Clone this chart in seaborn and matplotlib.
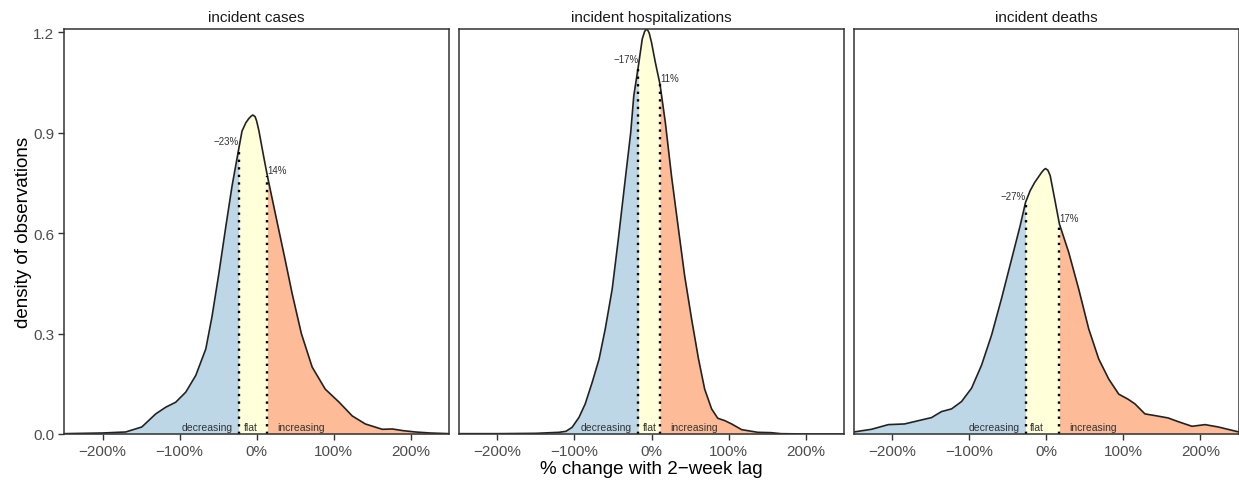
import numpy as np
import matplotlib
matplotlib.use("Agg")
import matplotlib.pyplot as plt
import seaborn as sns

# --- data ---
PANELS = ["incident cases", "incident hospitalizations", "incident deaths"]

cases_x = [-250, -200, -170, -149, -131, -118, -105, -92, -79, -66, -58, -49, -40, -32,
           -23, -19, -14, -10, -7, -5, -2, 0, 3, 9, 14, 25, 37, 46, 58, 72, 89, 107, 124,
           141, 163, 176, 190, 206, 225, 250]
cases_y = [0.001, 0.003, 0.006, 0.021, 0.060, 0.080, 0.095, 0.125, 0.175, 0.254, 0.350,
           0.480, 0.620, 0.740, 0.855, 0.905, 0.930, 0.943, 0.950, 0.953, 0.948, 0.935,
           0.905, 0.830, 0.770, 0.650, 0.520, 0.420, 0.300, 0.200, 0.134, 0.095, 0.054,
           0.030, 0.014, 0.015, 0.010, 0.006, 0.003, 0.001]

hosp_x = [-250, -200, -150, -120, -111, -103, -94, -86, -77, -68, -60, -51, -43, -34,
          -27, -23, -17, -12, -9, -7, -5, -3, 0, 5, 11, 18, 26, 35, 43, 52, 61, 69, 78,
          86, 95, 104, 117, 138, 155, 168, 200, 250]
hosp_y = [0.001, 0.001, 0.002, 0.005, 0.008, 0.020, 0.050, 0.090, 0.154, 0.224, 0.314,
          0.433, 0.583, 0.762, 0.900, 1.010, 1.100, 1.180, 1.202, 1.209, 1.207, 1.198,
          1.170, 1.110, 1.045, 0.930, 0.770, 0.612, 0.473, 0.344, 0.224, 0.134, 0.075,
          0.047, 0.040, 0.030, 0.013, 0.005, 0.004, 0.001, 0.000, 0.000]

deaths_x = [-250, -227, -205, -184, -162, -149, -136, -123, -110, -97, -84, -71, -58, -45,
            -34, -27, -21, -15, -6, -3, -1, 2, 5, 11, 17, 29, 42, 55, 68, 81, 94, 106, 115,
            128, 141, 158, 171, 189, 206, 223, 250]
deaths_y = [0.006, 0.014, 0.028, 0.030, 0.042, 0.049, 0.067, 0.075, 0.097, 0.137, 0.206,
            0.296, 0.406, 0.523, 0.622, 0.692, 0.727, 0.752, 0.782, 0.790, 0.793, 0.788,
            0.772, 0.700, 0.627, 0.543, 0.433, 0.314, 0.224, 0.164, 0.119, 0.104, 0.090,
            0.060, 0.055, 0.048, 0.037, 0.023, 0.028, 0.021, 0.006]

# lower / upper thresholds of the "flat" band
thr_low = [-23, -17, -27]
thr_high = [14, 11, 17]

x_ticks = [-200, -100, 0, 100, 200]
x_tick_labels = ["\u2212200%", "\u2212100%", "0%", "100%", "200%"]
y_ticks = [0.0, 0.3, 0.6, 0.9, 1.2]
y_tick_labels = ["0.0", "0.3", "0.6", "0.9", "1.2"]

COL_DEC = "#BDD7E7"
COL_FLAT = "#FFFFDA"
COL_INC = "#FDBB98"
EDGE = "#333333"

sns.set_theme(style="ticks")
plt.rcParams["font.family"] = ["Liberation Sans", "DejaVu Sans"]

fig, axes = plt.subplots(1, 3, figsize=(12.39, 4.85), dpi=100, sharey=True)
fig.subplots_adjust(left=64 / 1239, right=1.0, bottom=1 - 435 / 485,
                    top=1 - 30 / 485, wspace=0.0247)

curves = [(cases_x, cases_y), (hosp_x, hosp_y), (deaths_x, deaths_y)]

for i, ax in enumerate(axes):
    x = np.array(curves[i][0], dtype=float)
    y = np.array(curves[i][1], dtype=float)
    lo, hi = thr_low[i], thr_high[i]

    # coloured regions under the curve
    m = x <= lo
    ax.fill_between(x[m], y[m], color=COL_DEC, lw=0)
    m = (x >= lo) & (x <= hi)
    ax.fill_between(x[m], y[m], color=COL_FLAT, lw=0)
    m = x >= hi
    ax.fill_between(x[m], y[m], color=COL_INC, lw=0)

    sns.lineplot(x=x, y=y, ax=ax, color="#222222", lw=1.2, sort=False)

    # dotted threshold lines
    y_lo = y[x == lo][0]
    y_hi = y[x == hi][0]
    ax.vlines([lo, hi], 0, [y_lo, y_hi], colors="black",
              linestyles=(0, (1, 2.2)), lw=1.7)

    ax.text(lo, y_lo + 0.005, f"{lo}%".replace("-", "\u2212"), ha="right",
            va="bottom", fontsize=7, color="#333333")
    ax.text(hi, y_hi + 0.003, f"{hi}%", ha="left", va="bottom",
            fontsize=7, color="#333333")

    ax.text(lo - 8, 0.022, "decreasing", ha="right", va="center",
            fontsize=7.5, color="#333333")
    ax.text(lo + 6, 0.022, "flat", ha="left", va="center",
            fontsize=7.5, color="#333333")
    ax.text(hi + 13, 0.022, "increasing", ha="left", va="center",
            fontsize=7.5, color="#333333")

    ax.set_xlim(-250, 250)
    ax.set_ylim(0, 1.21)
    ax.set_xticks(x_ticks)
    ax.set_xticklabels(x_tick_labels)
    ax.set_yticks(y_ticks)
    ax.set_yticklabels(y_tick_labels)
    ax.tick_params(axis="both", labelsize=11, colors="#4D4D4D", length=4,
                   width=1, direction="out", pad=3)
    ax.tick_params(axis="both", color="#333333")
    if i > 0:
        ax.tick_params(axis="y", left=False)
    for s in ax.spines.values():
        s.set_visible(True)
        s.set_color(EDGE)
        s.set_linewidth(1.1)
    ax.set_title(PANELS[i], fontsize=11, color="#1A1A1A", pad=6)
    ax.set_xlabel("")
    ax.set_ylabel("")

axes[0].set_ylabel("density of observations", fontsize=13.5, color="black", labelpad=1)
axes[1].set_xlabel("% change with 2\u2212week lag", fontsize=13.5, color="black", labelpad=2)

fig.savefig("out.png", dpi=100)
